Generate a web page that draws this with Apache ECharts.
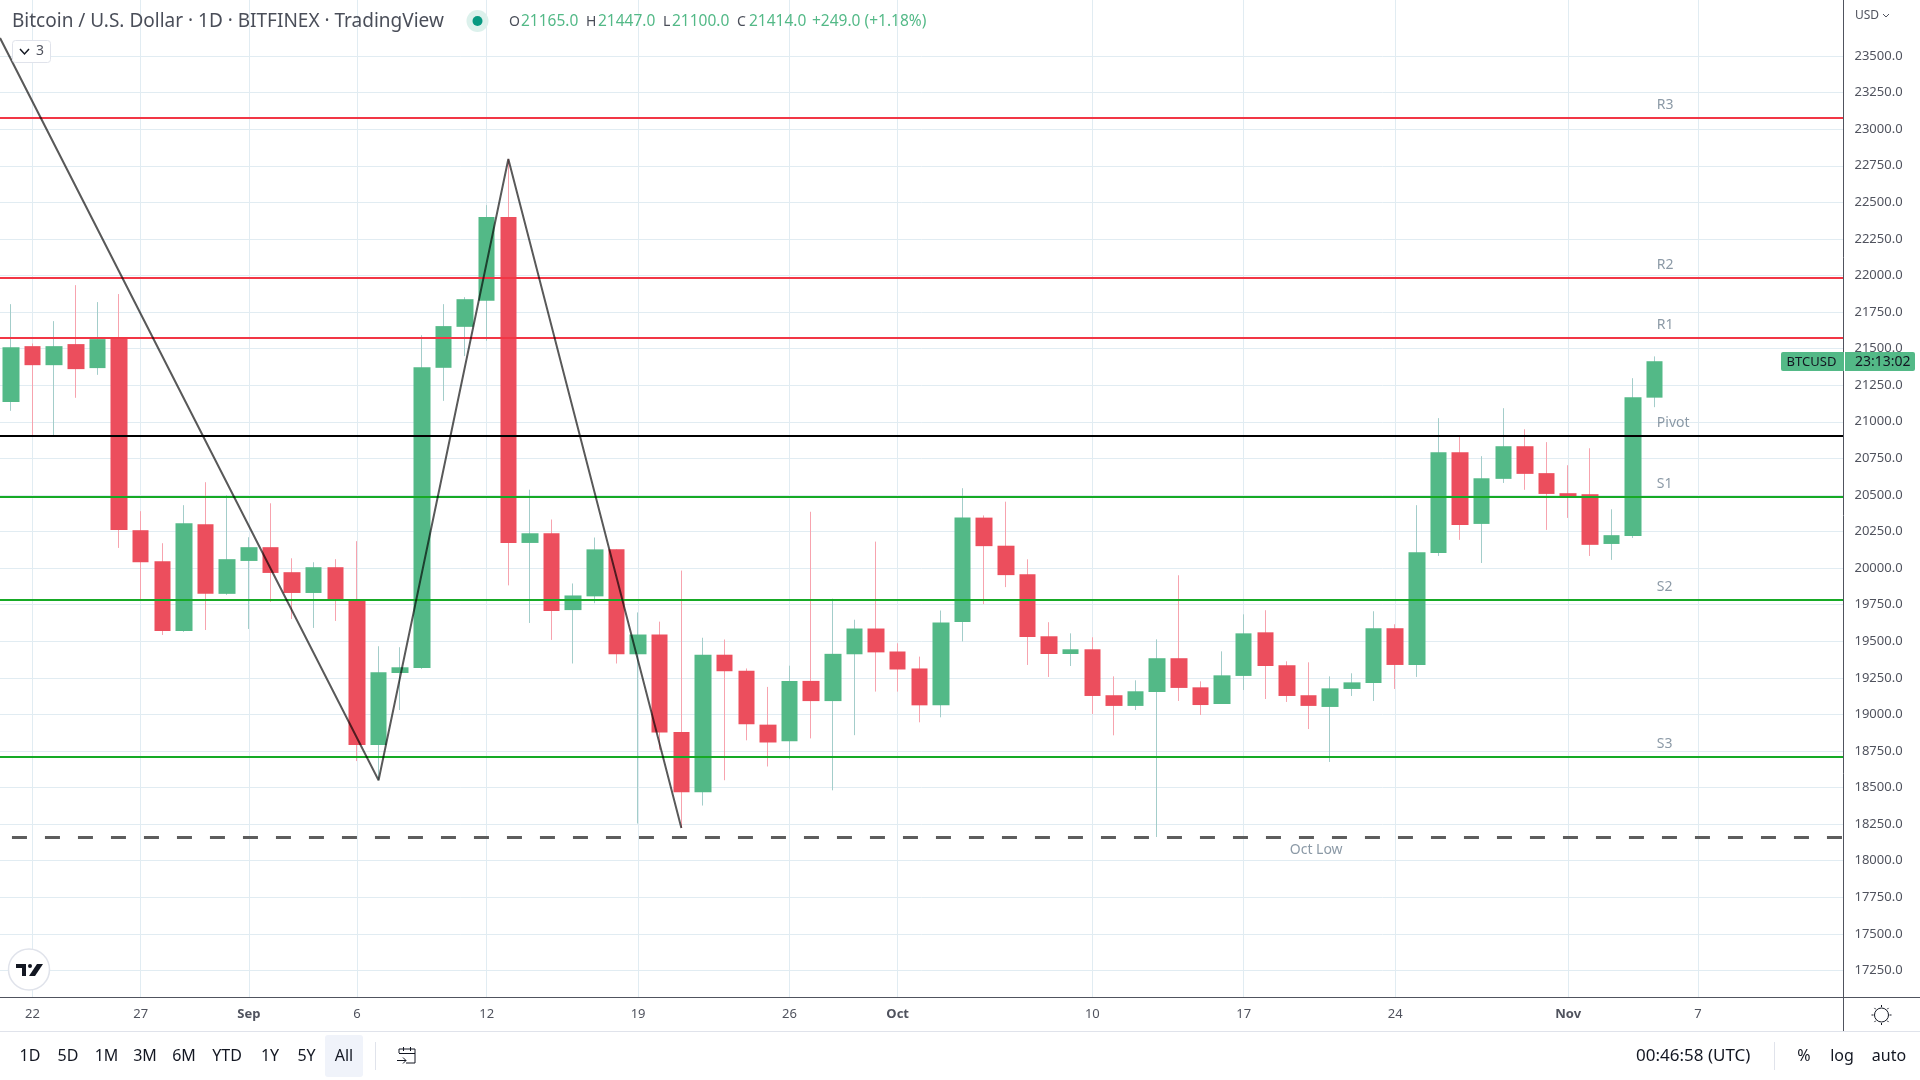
<!DOCTYPE html>
<html>
<head>
<meta charset="utf-8">
<title>BTCUSD</title>
<script src="https://cdn.jsdelivr.net/npm/echarts@6/dist/echarts.min.js"></script>
<style>
  html, body { margin: 0; padding: 0; background: #fff; }
  #chart { width: 1920px; height: 1080px; }
</style>
</head>
<body>
<div id="chart"></div>
<script>
// daily candles, first one is 21 Aug, last one 5 Nov
const opens = [
  21136, 21517, 21387, 21531, 21367, 21572, 20259, 20047, 19570, 20300,
  19824, 20049, 20143, 19972, 19830, 20006, 19780, 18791, 19283, 19317,
  21369, 21649, 21827, 22400, 20172, 20238, 19713, 19807, 20128, 19411,
  19546, 18880, 18468, 19408, 19298, 18930, 18817, 19229, 19091, 19411,
  19587, 19430, 19314, 19062, 19631, 20345, 20153, 19958, 19534, 19413,
  19445, 19131, 19058, 19153, 19384, 19185, 19071, 19263, 19561, 19336,
  19131, 19051, 19174, 19215, 19589, 19338, 20104, 20792, 20302, 20610,
  20833, 20649, 20512, 20505, 20165, 20220, 21165,
];
const closes = [
  21510, 21387, 21517, 21360, 21565, 20261, 20040, 19570, 20307, 19824,
  20061, 20143, 19967, 19830, 20006, 19787, 18791, 19288, 19322, 21373,
  21654, 21838, 22399, 20172, 20238, 19706, 19813, 20128, 19411, 19546,
  18877, 18468, 19408, 19295, 18933, 18808, 19229, 19091, 19414, 19587,
  19424, 19307, 19062, 19628, 20345, 20150, 19952, 19529, 19413, 19445,
  19126, 19058, 19158, 19384, 19181, 19064, 19267, 19554, 19331, 19126,
  19058, 19178, 19219, 19589, 19338, 20108, 20792, 20295, 20614, 20833,
  20644, 20507, 20487, 20159, 20225, 21168, 21414,
];
const lows = [
  21075, 20908, 20908, 21164, 21321, 20138, 19787, 19543, 19564, 19577,
  19817, 19584, 19769, 19652, 19591, 19639, 18681, 18550, 19030, 19311,
  21143, 21449, 21553, 19882, 19625, 19509, 19348, 19760, 19348, 18254,
  18758, 18223, 18377, 18550, 18823, 18644, 18694, 18836, 18481, 18858,
  19156, 19156, 18946, 18980, 19499, 19754, 19870, 19338, 19256, 19331,
  19003, 18857, 19030, 18162, 19092, 18996, 19071, 19167, 19105, 19085,
  18900, 18675, 19126, 19092, 19174, 19256, 20083, 20193, 20035, 20582,
  20535, 20261, 20343, 20083, 20056, 20206, 21100,
];
const highs = [
  21804, 21535, 21688, 21934, 21818, 21873, 20389, 20170, 20430, 20587,
  20498, 20211, 20443, 20067, 20040, 20061, 20184, 19466, 19459, 21592,
  21804, 21852, 22481, 22796, 20536, 20332, 19895, 20209, 20128, 19697,
  19634, 19983, 19524, 19512, 19314, 19188, 19333, 20385, 19791, 19647,
  20181, 19486, 19395, 19710, 20546, 20360, 20454, 20060, 19630, 19554,
  19527, 19260, 19233, 19513, 19951, 19226, 19431, 19684, 19712, 19363,
  19356, 19260, 19281, 19705, 19616, 20430, 21025, 20897, 20765, 21093,
  20949, 20861, 20703, 20819, 20402, 21298, 21447,
];

const priceTicks = [
  17250, 17500, 17750, 18000, 18250, 18500, 18750, 19000, 19250, 19500, 19750, 20000, 20250,
  20500, 20750, 21000, 21250, 21500, 21750, 22000, 22250, 22500, 22750, 23000, 23250, 23500,
];
const dayTicks = [1, 6, 11, 16, 22, 29, 36, 41, 50, 57, 64, 72, 78];
const dayLabels = ['22', '27', 'Sep', '6', '12', '19', '26', 'Oct', '10', '17', '24', 'Nov', '7'];

// pivot levels
const levelNames = ['R3', 'R2', 'R1', 'Pivot', 'S1', 'S2', 'S3'];
const levelValues = [23076, 21983, 21573, 20903, 20486, 19782, 18709];
const levelColors = ['#f23645', '#f23645', '#f23645', '#000000', '#16aa25', '#16aa25', '#16aa25'];
const octLow = 18158;

// swing line: day index, price
const swingDays = [-0.5, 17, 23, 31];
const swingPrices = [23623, 18550, 22796, 18223];

const UP = '#53b987';
const DOWN = '#ec4e5d';
const UP_WICK = '#a3cdca';
const DOWN_WICK = '#f7a3ae';
const GRID = '#e1ecf2';
const AXIS = '#50535e';
const TEXT = '#131722';
const NOTE = '#6e7f90';
const FONT = '"Noto Sans", sans-serif';

const xMin = -0.5025;
const xMax = 84.73;
const yMin = 17065;
const yMax = 23883;
const labelDay = 76.1;

const candleRow = (i) => [i, opens[i], closes[i], lows[i], highs[i]];
const bodyRow = (i) => [
  i, opens[i], closes[i], Math.min(opens[i], closes[i]), Math.max(opens[i], closes[i]),
];

const levelSeries = levelValues.map((value, i) => ({
  name: levelNames[i],
  type: 'line',
  silent: true,
  symbol: 'none',
  z: 4,
  lineStyle: { color: levelColors[i], width: 2 },
  data: [[xMin, value], [xMax, value]],
}));

const levelLabelSeries = {
  type: 'scatter',
  silent: true,
  symbolSize: 0,
  z: 6,
  label: {
    show: true,
    position: 'right',
    distance: 0,
    offset: [0, -13],
    fontFamily: FONT,
    fontSize: 14,
    color: NOTE,
    formatter: (p) => levelNames[p.dataIndex],
  },
  data: levelValues.map((value) => [labelDay, value]),
};

// small helper for the texts around the chart
const text = (x, y, str, fontSize, fill, extra) => ({
  type: 'text',
  x,
  y,
  z: 20,
  style: Object.assign({
    text: str,
    fontFamily: FONT,
    fontSize,
    fill,
    verticalAlign: 'middle',
  }, extra),
});
const hline = (x1, y1, x2, y2, stroke, lineWidth) => ({
  type: 'line',
  z: 15,
  shape: { x1, y1, x2, y2 },
  style: { stroke, lineWidth: lineWidth || 1 },
});

const toolbar = [
  ['1D', 30], ['5D', 68], ['1M', 106.5], ['3M', 145], ['6M', 184],
  ['YTD', 227], ['1Y', 270], ['5Y', 306.5], ['All', 344],
].map(([label, x]) => text(x, 1056, label, 16, TEXT, { align: 'center' }));

const gearTicks = [0, 45, 90, 135, 180, 225, 270, 315].map((deg) => {
  const a = deg * Math.PI / 180;
  return hline(
    1881.5 + Math.cos(a) * 8, 1015 + Math.sin(a) * 8,
    1881.5 + Math.cos(a) * 10, 1015 + Math.sin(a) * 10, '#131722', 1,
  );
});

const graphics = [
  // frame around the plot
  hline(0, 997.5, 1920, 997.5, AXIS),
  hline(1843.5, 0, 1843.5, 1031, AXIS),
  hline(0, 1031.5, 1920, 1031.5, '#e0e3eb'),

  // legend line
  text(12, 22, 'Bitcoin / U.S. Dollar · 1D · BITFINEX · TradingView', 19, '#4a4e59'),
  { type: 'circle', z: 20, shape: { cx: 477.5, cy: 21, r: 11 }, style: { fill: '#dcf1ec' } },
  { type: 'circle', z: 21, shape: { cx: 477.5, cy: 21, r: 5 }, style: { fill: '#089981' } },
  text(509, 22, 'O', 14, '#4a4e59'),
  text(521, 22, '21165.0', 15.5, UP),
  text(586, 22, 'H', 14, '#4a4e59'),
  text(598, 22, '21447.0', 15.5, UP),
  text(663, 22, 'L', 14, '#4a4e59'),
  text(672, 22, '21100.0', 15.5, UP),
  text(737, 22, 'C', 14, '#4a4e59'),
  text(749, 22, '21414.0', 15.5, UP),
  text(812, 22, '+249.0 (+1.18%)', 15.5, UP),

  // collapsed indicators button
  {
    type: 'rect', z: 20,
    shape: { x: 12.5, y: 40.5, width: 38, height: 22, r: 3 },
    style: { fill: '#fff', stroke: '#e0e3eb' },
  },
  {
    type: 'polyline', z: 21,
    shape: { points: [[20, 49], [24.5, 54], [29, 49]] },
    style: { stroke: TEXT, lineWidth: 1.5, fill: 'none' },
  },
  text(36, 51.5, '3', 14, AXIS),

  // price scale
  text(1855, 15.5, 'USD', 12, AXIS),
  {
    type: 'polyline', z: 21,
    shape: { points: [[1883, 14], [1886, 17], [1889, 14]] },
    style: { stroke: AXIS, lineWidth: 1, fill: 'none' },
  },
  {
    type: 'rect', z: 20,
    shape: { x: 1781, y: 352, width: 63, height: 19, r: [2, 0, 0, 2] },
    style: { fill: UP },
  },
  {
    type: 'rect', z: 20,
    shape: { x: 1845, y: 352, width: 70, height: 19, r: [0, 2, 2, 0] },
    style: { fill: UP },
  },
  text(1811.5, 362, 'BTCUSD', 13, TEXT, { align: 'center' }),
  text(1855, 362, '23:13:02', 14, TEXT),

  // logo
  {
    type: 'circle', z: 20,
    shape: { cx: 29, cy: 969.5, r: 20.5 },
    style: { fill: '#fff', stroke: '#e0e3eb', lineWidth: 1.5 },
  },
  {
    type: 'polygon', z: 21,
    shape: { points: [[16, 964], [26, 964], [26, 976], [22, 976], [22, 968], [16, 968]] },
    style: { fill: TEXT },
  },
  { type: 'circle', z: 21, shape: { cx: 30, cy: 966, r: 2 }, style: { fill: TEXT } },
  {
    type: 'polygon', z: 21,
    shape: { points: [[37, 964], [43, 964], [35, 976], [29, 976]] },
    style: { fill: TEXT },
  },

  // bottom toolbar
  {
    type: 'rect', z: 14,
    shape: { x: 325, y: 1035, width: 38, height: 42, r: 3 },
    style: { fill: '#f0f3fa' },
  },
  hline(375.5, 1042, 375.5, 1070, '#e0e3eb'),
  {
    type: 'polyline', z: 20,
    shape: { points: [[399, 1053], [399, 1049], [415, 1049], [415, 1063], [406, 1063]] },
    style: { stroke: TEXT, lineWidth: 1, fill: 'none' },
  },
  hline(399, 1053.5, 415, 1053.5, TEXT),
  hline(403.5, 1047, 403.5, 1051, TEXT),
  hline(410.5, 1047, 410.5, 1051, TEXT),
  hline(397, 1060.5, 406, 1060.5, TEXT),
  {
    type: 'polyline', z: 20,
    shape: { points: [[403, 1057.5], [406, 1060.5], [403, 1063.5]] },
    style: { stroke: TEXT, lineWidth: 1, fill: 'none' },
  },
  text(1636, 1056, '00:46:58 (UTC)', 17, TEXT),
  hline(1774.5, 1042, 1774.5, 1070, '#e0e3eb'),
  text(1804, 1056, '%', 16, TEXT, { align: 'center' }),
  text(1842, 1056, 'log', 16, TEXT, { align: 'center' }),
  text(1889, 1056, 'auto', 16, TEXT, { align: 'center' }),
  {
    type: 'circle', z: 20,
    shape: { cx: 1881.5, cy: 1015, r: 7 },
    style: { fill: 'none', stroke: TEXT, lineWidth: 1 },
  },
].concat(toolbar, gearTicks);

const option = {
  animation: false,
  backgroundColor: '#ffffff',
  grid: { left: 0, right: 76.5, top: 0, height: 997.5 },
  xAxis: {
    type: 'value',
    min: xMin,
    max: xMax,
    axisLine: { show: false },
    axisTick: { show: false, customValues: dayTicks },
    splitLine: { show: true, lineStyle: { color: GRID, width: 1 } },
    axisLabel: {
      customValues: dayTicks,
      margin: 10,
      hideOverlap: false,
      fontFamily: FONT,
      fontSize: 13,
      color: AXIS,
      formatter: (value) => {
        const label = dayLabels[dayTicks.indexOf(value)];
        return /[A-Z]/.test(label) ? `{month|${label}}` : label;
      },
      rich: {
        month: { fontFamily: FONT, fontSize: 13, fontWeight: 'bold', color: AXIS },
      },
    },
  },
  yAxis: {
    type: 'value',
    position: 'right',
    min: yMin,
    max: yMax,
    scale: true,
    axisLine: { show: false },
    axisTick: { show: false, customValues: priceTicks },
    splitLine: { show: true, lineStyle: { color: GRID, width: 1 } },
    axisLabel: {
      customValues: priceTicks,
      margin: 11,
      fontFamily: FONT,
      fontSize: 13,
      color: AXIS,
      formatter: (value) => value.toFixed(1),
    },
  },
  series: [
    // wicks are a lighter colour than the bodies, so they get their own series underneath
    {
      name: 'wicks',
      type: 'candlestick',
      silent: true,
      barWidth: 1,
      z: 2,
      itemStyle: {
        color: UP_WICK, color0: DOWN_WICK, borderColor: UP_WICK, borderColor0: DOWN_WICK, borderWidth: 1,
      },
      data: opens.map((o, i) => candleRow(i)),
    },
    {
      name: 'BTCUSD',
      type: 'candlestick',
      silent: true,
      barWidth: 17,
      z: 3,
      itemStyle: {
        color: UP, color0: DOWN, borderColor: UP, borderColor0: DOWN, borderWidth: 0,
      },
      data: opens.map((o, i) => bodyRow(i)),
    },
    ...levelSeries,
    {
      name: 'Oct Low',
      type: 'line',
      silent: true,
      symbol: 'none',
      z: 5,
      lineStyle: { color: '#5d5d5d', width: 3, type: [15, 18] },
      data: [[0.05, octLow], [xMax, octLow]],
    },
    levelLabelSeries,
    {
      type: 'scatter',
      silent: true,
      symbolSize: 0,
      z: 6,
      label: {
        show: true,
        position: 'inside',
        offset: [0, 12],
        fontFamily: FONT,
        fontSize: 14,
        color: NOTE,
        formatter: 'Oct Low',
      },
      data: [[60.35, octLow]],
    },
    {
      name: 'Swing',
      type: 'line',
      silent: true,
      symbol: 'none',
      z: 7,
      lineStyle: { color: 'rgba(0,0,0,0.65)', width: 2 },
      data: swingDays.map((day, i) => [day, swingPrices[i]]),
    },
  ],
  graphic: { elements: graphics },
};

const chart = echarts.init(document.getElementById('chart'));
chart.setOption(option);
</script>
</body>
</html>
